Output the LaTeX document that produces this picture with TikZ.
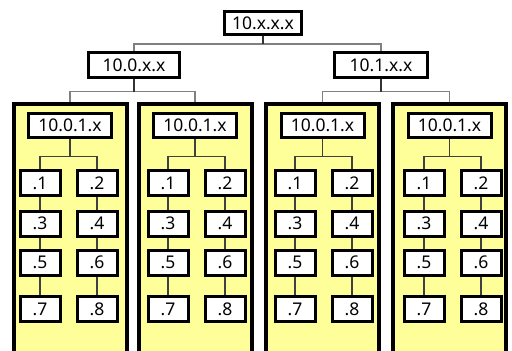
\documentclass[tikz,border=0pt]{standalone}
\usepackage{fontspec}
\setmainfont{Noto Sans}
\definecolor{paneyellow}{RGB}{255,255,153}
\begin{document}
\begin{tikzpicture}[x=1pt,y=-1pt,
  box/.style={draw=black, line width=3pt, fill=white, inner sep=0pt,
    font=\fontsize{17.5}{19}\selectfont},
  leaf/.style={box, minimum width=40, minimum height=25},
  subnet/.style={box, minimum width=83, minimum height=24},
  panel/.style={draw=black, line width=4pt, fill=paneyellow, inner sep=0pt,
    minimum width=113, minimum height=280, anchor=north},
  stem/.style={draw=black!80, line width=1.3pt},
  branch/.style={draw=black!50, line width=1.3pt},
  twig/.style={draw=black!75, line width=1.2pt}]
\useasboundingbox (0,0) rectangle (512,351);
\clip (0,0) rectangle (512,351);

% root and second level
\node[box, minimum width=77, minimum height=23] (top) at (263,23) {10.x.x.x};
\node[box, minimum width=91, minimum height=25] (l0) at (134,65) {10.0.x.x};
\node[box, minimum width=93, minimum height=25] (l1) at (381,65) {10.1.x.x};
\draw[branch] (top.south) -- ++(0,8) -| (l0.north);
\draw[branch] (top.south) -- ++(0,8) -| (l1.north);
\draw[stem] (top.south) -- ++(0,8);

% one yellow panel per subnet, each with eight hosts
\foreach \i/\cx/\a/\b/\up in {1/70/40/97/l0, 2/195/168/225/l0,
                               3/322.5/295/352/l1, 4/449.5/424/481/l1} {
  \node[panel] (p\i) at (\cx,102) {};
  \draw[branch] (\up.south) -- ++(0,12.5) -| (p\i.north);
  \draw[stem] (\up.south) -- ++(0,12.5);
  \node[subnet] (n\i) at (\cx,125.5) {10.0.1.x};
  \foreach \r/\y in {1/183, 2/223.5, 3/262.5, 4/309} {
    \pgfmathtruncatemacro{\odd}{2*\r-1}
    \pgfmathtruncatemacro{\even}{2*\r}
    \node[leaf] (h\i-\odd) at (\a,\y) {.\odd};
    \node[leaf] (h\i-\even) at (\b,\y) {.\even};
  }
  \draw[twig] (n\i.south) -- ++(0,17.5) -| (h\i-1.north);
  \draw[twig] (n\i.south) -- ++(0,17.5) -| (h\i-2.north);
  \draw[twig] (h\i-1) -- (h\i-3) (h\i-3) -- (h\i-5) (h\i-5) -- (h\i-7);
  \draw[twig] (h\i-2) -- (h\i-4) (h\i-4) -- (h\i-6) (h\i-6) -- (h\i-8);
}
\end{tikzpicture}
\end{document}
